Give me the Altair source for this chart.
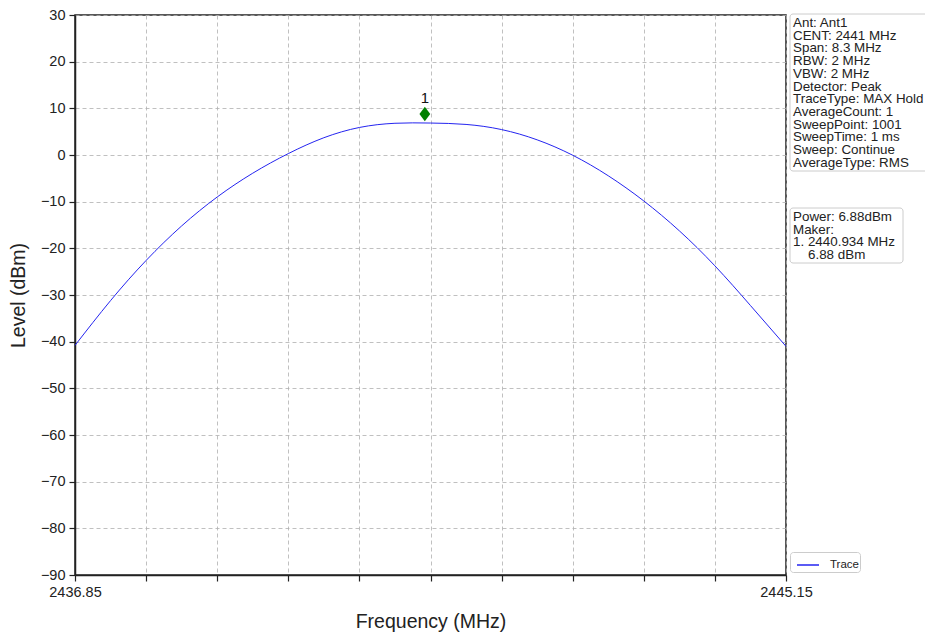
import altair as alt
import pandas as pd

# ---- data ----
freq_mhz = [2436.85, 2437.265, 2437.68, 2438.095, 2438.51, 2438.925, 2439.34,
            2439.755, 2440.17, 2440.585, 2441.0, 2441.415, 2441.83,
            2442.245, 2442.66, 2443.075, 2443.49, 2443.905, 2444.32, 2444.735,
            2445.15]
level_dbm = [-40.8, -31.2, -22.6, -15.2, -9.0, -3.9, 0.3,
             3.7, 5.9, 6.8, 6.85, 6.55, 5.45,
             3.25, -0.05, -4.45, -9.85, -16.25, -23.75, -32.25,
             -41.0]
series_name = ["Trace"] * len(freq_mhz)

marker_freq = [2440.934]
marker_level = [6.88]
marker_label = ["1"]

x_ticks = [2436.85, 2437.68, 2438.51, 2439.34, 2440.17, 2441.0, 2441.83,
           2442.66, 2443.49, 2444.32, 2445.15]
y_ticks = [-90, -80, -70, -60, -50, -40, -30, -20, -10, 0, 10, 20, 30]

info_lines = ["Ant: Ant1", "CENT: 2441 MHz", "Span: 8.3 MHz", "RBW: 2 MHz",
              "VBW: 2 MHz", "Detector: Peak", "TraceType: MAX Hold",
              "AverageCount: 1", "SweepPoint: 1001", "SweepTime: 1 ms",
              "Sweep: Continue", "AverageType: RMS"]
marker_lines = ["Power: 6.88dBm", "Maker:", "1. 2440.934 MHz"]
marker_last_line = ["6.88 dBm"]

FONT = "Liberation Sans"
W, H = 711, 560

trace_df = pd.DataFrame({"freq": freq_mhz, "level": level_dbm, "series": series_name})
marker_df = pd.DataFrame({"freq": marker_freq, "level": marker_level, "label": marker_label})
one = pd.DataFrame({"a": [0]})

xscale = alt.Scale(domain=[2436.85, 2445.15], nice=False, zero=False)
yscale = alt.Scale(domain=[-90, 30], nice=False, zero=False)

xaxis = alt.Axis(
    title="Frequency (MHz)", values=x_ticks,
    labelExpr="datum.index == 0 || datum.index == 1 ? format(datum.value, '.2f') : ''",
    grid=True, titlePadding=14, labelPadding=4, labelFlush=False, labelOverlap=False,
)
yaxis = alt.Axis(title="Level (dBm)", values=y_ticks, format="d", grid=True,
                 titlePadding=12, labelPadding=4)

line = alt.Chart(trace_df).mark_line(strokeWidth=1, interpolate="natural").encode(
    x=alt.X("freq:Q", scale=xscale, axis=xaxis),
    y=alt.Y("level:Q", scale=yscale, axis=yaxis),
    color=alt.Color("series:N", scale=alt.Scale(range=["#2424f0"]),
                    legend=alt.Legend(title=None, orient="none", legendX=715, legendY=537,
                                      symbolType="stroke", symbolSize=484,
                                      symbolStrokeWidth=1.5, symbolOffset=5,
                                      labelFont=FONT, labelFontSize=11.5,
                                      labelColor="#222", padding=1,
                                      strokeColor="#cccccc", fillColor="white",
                                      cornerRadius=3, labelOffset=10)),
)

diamond = alt.Chart(marker_df).mark_point(
    shape="M0,-1L0.75,0L0,1L-0.75,0Z", filled=True, color="#008000",
    size=210, opacity=1, yOffset=-9,
).encode(x=alt.X("freq:Q", scale=xscale), y=alt.Y("level:Q", scale=yscale))

mlabel = alt.Chart(marker_df).mark_text(
    font=FONT, fontSize=15, color="#111", yOffset=-25, baseline="middle",
).encode(x=alt.X("freq:Q", scale=xscale), y=alt.Y("level:Q", scale=yscale),
         text="label:N")

box1 = alt.Chart(one).mark_rect(fill="white", stroke="#cccccc", strokeWidth=1,
                                cornerRadius=3, clip=False).encode(
    x=alt.value(715), x2=alt.value(855), y=alt.value(-1), y2=alt.value(156))
text1 = alt.Chart(one).mark_text(align="left", baseline="top", font=FONT,
                                 fontSize=13.4, lineHeight=12.7, color="#222",
                                 clip=False).encode(
    x=alt.value(718), y=alt.value(1), text=alt.value(info_lines))

box2 = alt.Chart(one).mark_rect(fill="white", stroke="#cccccc", strokeWidth=1,
                                cornerRadius=3, clip=False).encode(
    x=alt.value(715), x2=alt.value(828), y=alt.value(193), y2=alt.value(248))
text2 = alt.Chart(one).mark_text(align="left", baseline="top", font=FONT,
                                 fontSize=13.4, lineHeight=12.7, color="#222",
                                 clip=False).encode(
    x=alt.value(718), y=alt.value(195), text=alt.value(marker_lines))
text3 = alt.Chart(one).mark_text(align="left", baseline="top", font=FONT,
                                 fontSize=13.4, color="#222", clip=False).encode(
    x=alt.value(733), y=alt.value(233), text=alt.value(marker_last_line[0]))

chart = alt.layer(line, diamond, mlabel, box1, text1, box2, text2, text3).properties(
    width=W, height=H,
    autosize=alt.AutoSizeParams(type="none"),
    padding={"left": 67, "top": 7, "right": 139, "bottom": 57},
).configure_view(
    stroke="#222", strokeWidth=1.5,
).configure_axis(
    labelFont=FONT, labelFontSize=14.5, labelColor="#222",
    titleFont=FONT, titleFontSize=19.5, titleFontWeight="normal", titleColor="#222",
    tickColor="#222", tickSize=6, tickWidth=1.2,
    domainColor="#222", domainWidth=1.5,
    gridColor="#b0b0b0", gridDash=[4, 3], gridWidth=0.8,
)

chart.save("out.html", embed_options={"renderer": "svg", "actions": False})
